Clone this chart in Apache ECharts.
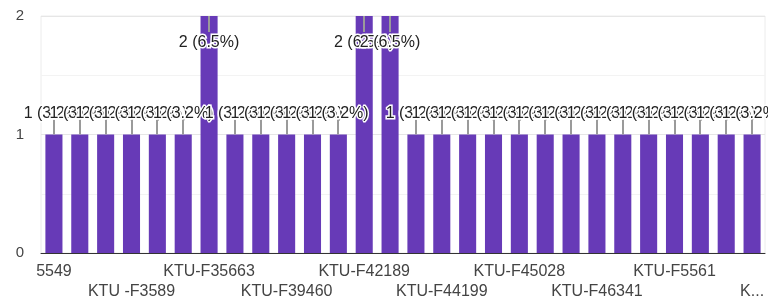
<!DOCTYPE html>
<html>
<head>
<meta charset="utf-8">
<script src="https://cdn.jsdelivr.net/npm/echarts@6/dist/echarts.min.js"></script>
<style>
html,body{margin:0;padding:0;background:#fff;}
#chart{width:768px;height:302px;}
</style>
</head>
<body>
<div id="chart"></div>
<script>
// Categories (sorted as in the reference; only every third name is visible there)
var categories = [
  "5549", "KTU -F3312", "KTU -F3450", "KTU -F3589", "KTU-F32210", "KTU-F34871",
  "KTU-F35663", "KTU-F36120", "KTU-F38004", "KTU-F39460", "KTU-F40115", "KTU-F41372",
  "KTU-F42189", "KTU-F42530", "KTU-F43817", "KTU-F44199", "KTU-F44562", "KTU-F44901",
  "KTU-F45028", "KTU-F45617", "KTU-F46002", "KTU-F46341", "KTU-F47158", "KTU-F48893",
  "KTU-F5561", "KTU-F5603", "KTU-F5789", "KTU-F6012"
];
// Response counts
var counts = [
  1, 1, 1, 1, 1, 1,
  2, 1, 1, 1, 1, 1,
  2, 2, 1, 1, 1, 1,
  1, 1, 1, 1, 1, 1,
  1, 1, 1, 1
];
var yTicks = [0, 1, 2];

var total = counts.reduce(function (a, b) { return a + b; }, 0);
var yMax = yTicks[yTicks.length - 1];
var FONT = "Arial, 'Liberation Sans', sans-serif";

var chart = echarts.init(document.getElementById('chart'), null, { renderer: 'canvas' });

chart.setOption({
  animation: false,
  backgroundColor: '#fff',
  grid: {
    left: 41, right: 3, top: 16, bottom: 46,
    show: true, borderColor: '#ececec', borderWidth: 1, backgroundColor: 'transparent'
  },
  xAxis: {
    type: 'category',
    data: categories,
    axisTick: { show: false },
    axisLine: { lineStyle: { color: '#333', width: 1 } },
    axisLabel: {
      interval: 2,
      margin: 8,
      fontSize: 16,
      lineHeight: 20.5,
      color: '#444',
      fontFamily: FONT,
      formatter: function (value, index) {
        var txt = value;
        if (index === categories.length - 1) { txt = value.charAt(0) + '...'; }
        return (index % 6 === 3) ? '\n' + txt : txt;
      }
    },
    splitLine: { show: false }
  },
  yAxis: {
    type: 'value',
    min: 0,
    max: yMax,
    interval: 0.5,
    axisLine: { show: false },
    axisTick: { show: false },
    axisLabel: {
      margin: 17,
      fontSize: 15,
      color: '#444',
      fontFamily: FONT,
      formatter: function (v) { return yTicks.indexOf(v) >= 0 ? String(v) : ''; }
    },
    splitLine: { lineStyle: { color: ['#e6e6e6', '#f3f3f3'], width: 1 } }
  },
  series: [
    {
      type: 'bar',
      data: counts,
      barWidth: '66%',
      itemStyle: { color: '#673ab7' },
      z: 2
    },
    {
      type: 'custom',
      z: 5,
      data: counts.map(function (v, i) { return [i, v]; }),
      renderItem: function (params, api) {
        var i = api.value(0);
        var v = api.value(1);
        var p = api.coord([i, v]);
        var pct = (v / total * 100).toFixed(1);
        var label = v + ' (' + pct + '%)';
        var atTop = v >= yMax;
        var y1 = p[1], y2, ty;
        if (atTop) { y2 = p[1] + 16; ty = p[1] + 27; }
        else { y2 = p[1] - 15; ty = p[1] - 21; }
        var x = Math.round(p[0]);
        return {
          type: 'group',
          children: [
            {
              type: 'line',
              shape: { x1: x, y1: y1, x2: x, y2: y2 },
              style: { stroke: '#9a9a9a', lineWidth: 2 }
            },
            {
              type: 'text',
              x: p[0],
              y: ty,
              style: {
                text: label,
                fill: '#222',
                stroke: '#fff',
                lineWidth: 3,
                font: '16px ' + FONT,
                align: 'center',
                verticalAlign: 'middle'
              }
            }
          ]
        };
      }
    }
  ]
});
</script>
</body>
</html>
